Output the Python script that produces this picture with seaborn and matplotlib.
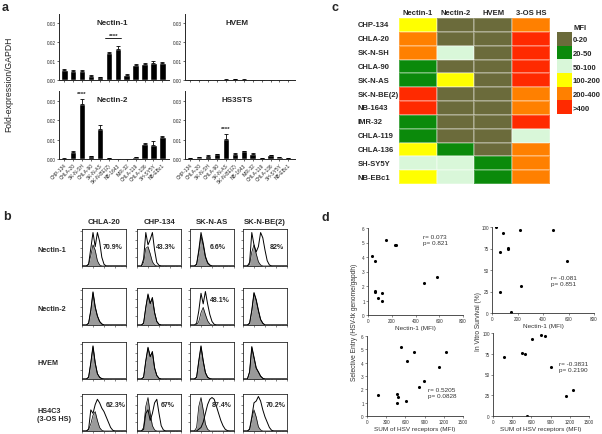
import numpy as np
import pandas as pd
import matplotlib
matplotlib.use('Agg')
import matplotlib.pyplot as plt
import seaborn as sns
from matplotlib.colors import ListedColormap
from matplotlib.ticker import FormatStrFormatter

sns.set_style('ticks')
plt.rcParams['font.family'] = ['Liberation Sans', 'DejaVu Sans']

W, H = 602, 435

# ---------------- panel a data ----------------
cell_lines = ['CHP-134', 'CHLA-20', 'SK-N-SH', 'CHLA-90', 'SK-N-AS', 'SK-N-BE(2)',
              'NB-1643', 'IMR-32', 'CHLA-119', 'CHLA-136', 'SH-SY5Y', 'NB-EBc1']
nectin1_expr = [0.0055, 0.0050, 0.0050, 0.0023, 0.0015, 0.0143, 0.0163, 0.0027, 0.0079, 0.0083, 0.0091, 0.0089]
nectin1_err = [0.0003, 0.0003, 0.0004, 0.0002, 0.0001, 0.0005, 0.0018, 0.0002, 0.0003, 0.0004, 0.0007, 0.0004]
nectin2_expr = [0.0002, 0.0038, 0.0285, 0.0015, 0.0155, 0.0004, 0.0001, 0.0001, 0.0008, 0.0075, 0.0072, 0.0113]
nectin2_err = [0.0001, 0.0002, 0.0025, 0.0001, 0.0022, 0.0001, 0.0000, 0.0000, 0.0001, 0.0006, 0.0020, 0.0004]
hvem_expr = [0.0001, 0.0001, 0.0001, 0.0001, 0.0002, 0.0003, 0.0002, 0.0001, 0.0001, 0.0001, 0.0001, 0.0001]
hvem_err = [0.0000, 0.0000, 0.0000, 0.0000, 0.0001, 0.0001, 0.0001, 0.0000, 0.0000, 0.0000, 0.0000, 0.0000]
hs3sts_expr = [0.0005, 0.0008, 0.0017, 0.0025, 0.0105, 0.0028, 0.0040, 0.0028, 0.0003, 0.0020, 0.0010, 0.0004]
hs3sts_err = [0.0001, 0.0001, 0.0002, 0.0002, 0.0023, 0.0003, 0.0003, 0.0003, 0.0001, 0.0002, 0.0002, 0.0001]
a_yticks = [0.00, 0.01, 0.02, 0.03]

# ---------------- panel b data (flow histograms, fraction of box height) ----------------
flow_cols = ['CHLA-20', 'CHP-134', 'SK-N-AS', 'SK-N-BE(2)']
flow_rows = ['Nectin-1', 'Nectin-2', 'HVEM', 'HS4C3\n(3-OS HS)']
flow_channel = [0, 5, 10, 15, 20, 25, 30, 35, 40, 45, 50, 55, 60, 65, 70, 75, 80, 85, 90, 95, 100]
iso_nectin1 = [[0, 0, 0, 0.05, 0.30, 0.60, 0.45, 0.15, 0.03],
               [0, 0, 0, 0.10, 0.50, 0.55, 0.35, 0.12, 0.03],
               [0, 0, 0, 0.05, 0.40, 0.85, 0.60, 0.25, 0.08, 0.02],
               [0, 0, 0, 0.05, 0.40, 0.60, 0.35, 0.12, 0.03]]
stain_nectin1 = [[0, 0, 0, 0.05, 0.50, 0.95, 0.55, 0.95, 0.70, 0.25, 0.05],
                 [0, 0, 0, 0.20, 0.95, 0.60, 0.75, 0.95, 0.45, 0.10, 0.02],
                 [0, 0, 0, 0.05, 0.45, 0.95, 0.65, 0.28, 0.10, 0.03],
                 [0, 0, 0, 0.10, 0.95, 0.60, 0.40, 0.55, 0.95, 0.80, 0.45, 0.15, 0.03]]
iso_nectin2 = [[0, 0, 0, 0.05, 0.40, 0.92, 0.50, 0.25, 0.10, 0.03],
               [0, 0, 0, 0.05, 0.50, 0.85, 0.60, 0.75, 0.35, 0.10, 0.02],
               [0, 0, 0, 0.00, 0.10, 0.35, 0.50, 0.30, 0.12, 0.03],
               [0, 0, 0, 0.05, 0.40, 0.90, 0.70, 0.40, 0.15, 0.05]]
stain_nectin2 = [[0, 0, 0, 0.05, 0.42, 0.94, 0.52, 0.26, 0.10, 0.03],
                 [0, 0, 0, 0.05, 0.50, 0.88, 0.62, 0.78, 0.35, 0.10, 0.02],
                 [0, 0, 0, 0.05, 0.40, 0.90, 0.60, 0.95, 0.60, 0.30, 0.10, 0.02],
                 [0, 0, 0, 0.05, 0.42, 0.92, 0.72, 0.42, 0.16, 0.05]]
iso_hvem = [[0, 0, 0, 0.05, 0.45, 0.92, 0.45, 0.15, 0.05, 0.01],
            [0, 0, 0, 0.05, 0.50, 0.88, 0.65, 0.75, 0.30, 0.10, 0.02],
            [0, 0, 0, 0.05, 0.50, 0.92, 0.50, 0.18, 0.05, 0.01],
            [0, 0, 0, 0.20, 0.90, 0.60, 0.30, 0.20, 0.08, 0.02]]
stain_hvem = [[0, 0, 0, 0.05, 0.46, 0.94, 0.46, 0.15, 0.05, 0.01],
              [0, 0, 0, 0.05, 0.52, 0.90, 0.63, 0.78, 0.32, 0.10, 0.02],
              [0, 0, 0, 0.05, 0.52, 0.94, 0.52, 0.18, 0.05, 0.01],
              [0, 0, 0, 0.20, 0.92, 0.62, 0.32, 0.20, 0.08, 0.02]]
iso_hs = [[0, 0, 0, 0.05, 0.20, 0.45, 0.55, 0.30, 0.10, 0.02],
          [0, 0, 0, 0.10, 0.70, 0.95, 0.50, 0.15, 0.03],
          [0, 0, 0, 0.10, 0.70, 0.95, 0.60, 0.20, 0.05],
          [0, 0, 0, 0.05, 0.35, 0.60, 0.40, 0.12, 0.03]]
stain_hs = [[0, 0, 0, 0.05, 0.60, 0.50, 0.75, 0.90, 0.80, 0.65, 0.55, 0.40, 0.25, 0.10, 0.02],
            [0, 0, 0, 0.05, 0.50, 0.60, 0.30, 0.50, 0.80, 0.90, 0.50, 0.15, 0.03],
            [0, 0, 0, 0.00, 0.05, 0.10, 0.25, 0.50, 0.75, 0.90, 0.95, 0.90, 0.70, 0.50, 0.30, 0.15, 0.05, 0.01],
            [0, 0, 0, 0.05, 0.40, 0.80, 0.85, 0.98, 0.85, 0.60, 0.40, 0.25, 0.10, 0.02]]
flow_pct = [['70.9%', '43.3%', '6.6%', '82%'],
            ['', '', '48.1%', ''],
            ['', '', '', ''],
            ['62.3%', '67%', '87.4%', '70.2%']]
flow_pct_x = [[0.70, 0.66, 0.64, 0.77],
              [0, 0, 0.68, 0],
              [0, 0, 0, 0],
              [0.77, 0.70, 0.73, 0.75]]
flow_pct_y = [0.52, 0.68, 0.5, 0.72]

# ---------------- panel c data ----------------
receptors = ['Nectin-1', 'Nectin-2', 'HVEM', '3-OS HS']
mfi_bins = ['0-20', '20-50', '50-100', '100-200', '200-400', '>400']
mfi_colors = ['#6b6b3b', '#0b8a0b', '#d9f7d9', '#ffff00', '#ff8000', '#ff2a00']
mfi_nectin1 = [3, 4, 4, 1, 1, 5, 5, 1, 1, 3, 2, 3]
mfi_nectin2 = [0, 0, 2, 0, 3, 0, 0, 0, 0, 1, 2, 2]
mfi_hvem = [0, 0, 0, 0, 0, 0, 0, 0, 0, 0, 1, 1]
mfi_3oshs = [4, 5, 5, 5, 5, 4, 4, 5, 2, 4, 4, 4]

# ---------------- panel d data ----------------
entry_nectin1_x = [34, 59, 150, 230, 238, 55, 60, 85, 120, 118, 470, 585]
entry_nectin1_y = [4.1, 3.7, 5.2, 4.8, 4.8, 1.65, 1.6, 1.15, 1.5, 0.95, 2.2, 2.6]
surv_nectin1_x = [34, 86, 62, 125, 127, 223, 475, 592, 60, 231, 151]
surv_nectin1_y = [100, 93, 71, 75.5, 74, 97, 96, 60, 25, 31, 1]
entry_sum_x = [175, 465, 485, 465, 605, 525, 740, 630, 810, 885, 1125, 1235]
entry_sum_y = [1.55, 1.65, 1.45, 0.95, 1.1, 5.2, 4.8, 4.1, 2.2, 2.6, 3.7, 4.8]
surv_sum_x = [170, 460, 500, 615, 750, 820, 900, 1140, 1250, 528]
surv_sum_y = [71, 76, 74.5, 93, 97, 96.5, 59, 24, 31, 0.5]

fig = plt.figure(figsize=(W / 100, H / 100), dpi=100)


def add_ax(x0, y0, x1, y1):
    return fig.add_axes([x0 / W, 1 - y1 / H, (x1 - x0) / W, (y1 - y0) / H])


def ptext(x, y, s, **kw):
    fig.text(x / W, 1 - y / H, s, **kw)


# ================= panel a =================
def bar_panel(rect, vals, errs, title, tx, ty, show_labels, star=None):
    ax = add_ax(*rect)
    df = pd.DataFrame({'line': cell_lines, 'v': vals})
    sns.barplot(data=df, x='line', y='v', order=cell_lines, color='black',
                saturation=1, errorbar=None, width=0.72, ax=ax)
    xs = np.arange(len(cell_lines))
    ax.errorbar(xs, vals, yerr=[np.zeros(len(vals)), errs], fmt='none',
                ecolor='black', elinewidth=0.6, capsize=1.3, capthick=0.6)
    ax.set_xlim(-0.6, 11.75)
    ax.set_ylim(0, 0.035)
    ax.set_yticks(a_yticks)
    ax.yaxis.set_major_formatter(FormatStrFormatter('%.2f'))
    ax.set_xlabel('')
    ax.set_ylabel('')
    sns.despine(ax=ax)
    for sp in ['left', 'bottom']:
        ax.spines[sp].set_linewidth(0.7)
    ax.tick_params(axis='both', length=1.5, width=0.5, pad=0.8, labelsize=3.4)
    ax.set_xticks(xs)
    if show_labels:
        ax.set_xticklabels(cell_lines, rotation=45, ha='right', rotation_mode='anchor',
                           fontsize=3.5)
    else:
        ax.set_xticklabels([])
    ax.text(tx, ty, title, transform=ax.transAxes, ha='center', va='center',
            fontsize=5.8, fontweight='bold')
    if star is not None:
        x0, x1, ys, line = star
        if line:
            ax.plot([x0 - 0.4, x1 + 0.4], [ys - 0.0015, ys - 0.0015], color='black', lw=0.6)
        ax.text((x0 + x1) / 2, ys, '****', ha='center', va='center', fontsize=4.5,
                fontweight='bold')
    return ax


bar_panel((59, 14.5, 169, 81), nectin1_expr, nectin1_err, 'Nectin-1', 0.48, 0.87, False,
          star=(5, 6, 0.0235, True))
bar_panel((185, 14.5, 295, 81), hvem_expr, hvem_err, 'HVEM', 0.47, 0.87, False)
bar_panel((59, 92, 169, 160), nectin2_expr, nectin2_err, 'Nectin-2', 0.48, 0.87, True,
          star=(2, 2, 0.0336, False))
bar_panel((185, 92, 295, 160), hs3sts_expr, hs3sts_err, 'HS3STS', 0.47, 0.87, True,
          star=(4, 4, 0.0155, False))
ptext(9, 84, 'Fold-expression/GAPDH', rotation=90, ha='center', va='center', fontsize=6.2,
      color='#222222')

# ================= panel b =================
box_x = [82, 137, 190, 243]
box_y = [230, 289, 343, 395]
box_w, box_h = 44, 37
iso_all = [iso_nectin1, iso_nectin2, iso_hvem, iso_hs]
stain_all = [stain_nectin1, stain_nectin2, stain_hvem, stain_hs]
n_ch = len(flow_channel)
for r in range(4):
    for c in range(4):
        ax = add_ax(box_x[c], box_y[r], box_x[c] + box_w, box_y[r] + box_h)
        iso = iso_all[r][c] + [0] * (n_ch - len(iso_all[r][c]))
        stn = stain_all[r][c] + [0] * (n_ch - len(stain_all[r][c]))
        ax.fill_between(flow_channel, iso, color='#9a9a9a', lw=0)
        sns.lineplot(x=flow_channel, y=iso, ax=ax, color='black', linewidth=0.5)
        sns.lineplot(x=flow_channel, y=stn, ax=ax, color='black', linewidth=0.7)
        ax.set_xlim(0, 100)
        ax.set_ylim(0, 1.05)
        ax.set_xlabel('')
        ax.set_ylabel('')
        ax.set_xticks([0, 25, 50, 75, 100])
        ax.set_xticks([5, 10, 15, 30, 35, 40, 55, 60, 65, 80, 85, 90], minor=True)
        ax.set_yticks([0.25, 0.5, 0.75, 1.0])
        ax.set_xticklabels([])
        ax.set_yticklabels([])
        ax.tick_params(axis='both', which='major', length=1.6, width=0.4)
        ax.tick_params(axis='x', which='minor', length=0.9, width=0.3)
        for sp in ax.spines.values():
            sp.set_linewidth(0.6)
        if flow_pct[r][c]:
            ax.text(flow_pct_x[r][c], flow_pct_y[r], flow_pct[r][c], transform=ax.transAxes,
                    ha='center', va='center', fontsize=5, fontweight='bold')
        if r == 0:
            ax.text(0.5, 1.1, flow_cols[c], transform=ax.transAxes, ha='center',
                    va='bottom', fontsize=5.6, fontweight='bold')
    ptext(37, box_y[r] + box_h * 0.55, flow_rows[r], ha='left', va='center', fontsize=5.2,
          fontweight='bold', linespacing=1.3)

# ================= panel c =================
mfi_df = pd.DataFrame({'Nectin-1': mfi_nectin1, 'Nectin-2': mfi_nectin2,
                       'HVEM': mfi_hvem, '3-OS HS': mfi_3oshs}, index=cell_lines)
axc = add_ax(399, 19, 550, 185)
cax = add_ax(557, 33, 572, 115)
sns.heatmap(mfi_df[receptors], ax=axc, cmap=ListedColormap(mfi_colors), vmin=-0.5,
            vmax=5.5, cbar_ax=cax, linewidths=0.3, linecolor=(1, 1, 1, 0.25),
            xticklabels=True, yticklabels=True)
axc.xaxis.tick_top()
axc.set_xticklabels(receptors, fontsize=5.5, fontweight='bold', rotation=0)
axc.set_yticklabels(cell_lines, fontsize=5.5, fontweight='bold', rotation=0, ha='left')
axc.tick_params(axis='y', length=0, pad=30)
axc.tick_params(axis='x', length=0, pad=1.5)
axc.set_xlabel('')
axc.set_ylabel('')
cbar = axc.collections[0].colorbar
cbar.set_ticks(list(range(6)))
cbar.set_ticklabels(mfi_bins, fontsize=5.5, fontweight='bold')
cbar.ax.invert_yaxis()
cbar.ax.tick_params(length=0, pad=0.5)
cbar.outline.set_visible(False)
ptext(574, 28, 'MFI', ha='left', va='center', fontsize=5.5, fontweight='bold')

# ================= panel d =================
def scatter_panel(rect, xs, ys, xlim, xticks, ylim, yticks, xlabel, txt, tpos):
    ax = add_ax(*rect)
    sns.scatterplot(x=xs, y=ys, ax=ax, color='black', s=5, linewidth=0)
    ax.set_xlim(*xlim)
    ax.set_ylim(*ylim)
    ax.set_xticks(xticks)
    ax.set_yticks(yticks)
    sns.despine(ax=ax)
    for sp in ['left', 'bottom']:
        ax.spines[sp].set_linewidth(0.6)
        ax.spines[sp].set_color('#333333')
    ax.tick_params(axis='both', length=1.5, width=0.4, pad=0.8, labelsize=3.3,
                   colors='#333333')
    ax.set_xlabel(xlabel, fontsize=4.6, labelpad=1, color='#333333')
    ax.set_ylabel('')
    ax.text(tpos[0], tpos[1], txt, transform=ax.transAxes, ha='left', va='center',
            fontsize=4.6, color='#333333', linespacing=1.2)
    return ax


scatter_panel((368, 229, 463, 316), entry_nectin1_x, entry_nectin1_y, (0, 800),
              [0, 200, 400, 600, 800], (0, 6), [0, 1, 2, 3, 4, 5, 6], 'Nectin-1 (MFI)',
              'r= 0.073\np= 0.821', (0.58, 0.87))
scatter_panel((492, 228, 594, 314), surv_nectin1_x, surv_nectin1_y, (0, 800),
              [0, 200, 400, 600, 800], (0, 100), [0, 25, 50, 75, 100], 'Nectin-1 (MFI)',
              'r= -0.081\np= 0.851', (0.58, 0.38))
scatter_panel((367, 337, 463, 417), entry_sum_x, entry_sum_y, (0, 1500),
              [0, 300, 600, 900, 1200, 1500], (0, 6), [0, 1, 2, 3, 4, 5, 6],
              'SUM of HSV receptors (MFI)', 'r= 0.5205\np= 0.0828', (0.64, 0.29))
scatter_panel((493, 334, 589, 417), surv_sum_x, surv_sum_y, (0, 1500),
              [0, 300, 600, 900, 1200, 1500], (0, 100), [0, 25, 50, 75, 100],
              'SUM of HSV receptors (MFI)', 'r= -0.3831\np= 0.2190', (0.69, 0.6))
ptext(355, 322, 'Selective Entry (HSV-tk genome/gapdh)', rotation=90, ha='center',
      va='center', fontsize=4.8, color='#333333')
ptext(478, 322, 'In Vitro Survival (%)', rotation=90, ha='center', va='center',
      fontsize=4.8, color='#333333')

# panel letters
ptext(2, 8, 'a', fontsize=9, fontweight='bold', va='center', ha='left')
ptext(3, 217, 'b', fontsize=9, fontweight='bold', va='center', ha='left')
ptext(331, 8, 'c', fontsize=9, fontweight='bold', va='center', ha='left')
ptext(322, 218, 'd', fontsize=9, fontweight='bold', va='center', ha='left')

fig.savefig('out.png', dpi=100)
